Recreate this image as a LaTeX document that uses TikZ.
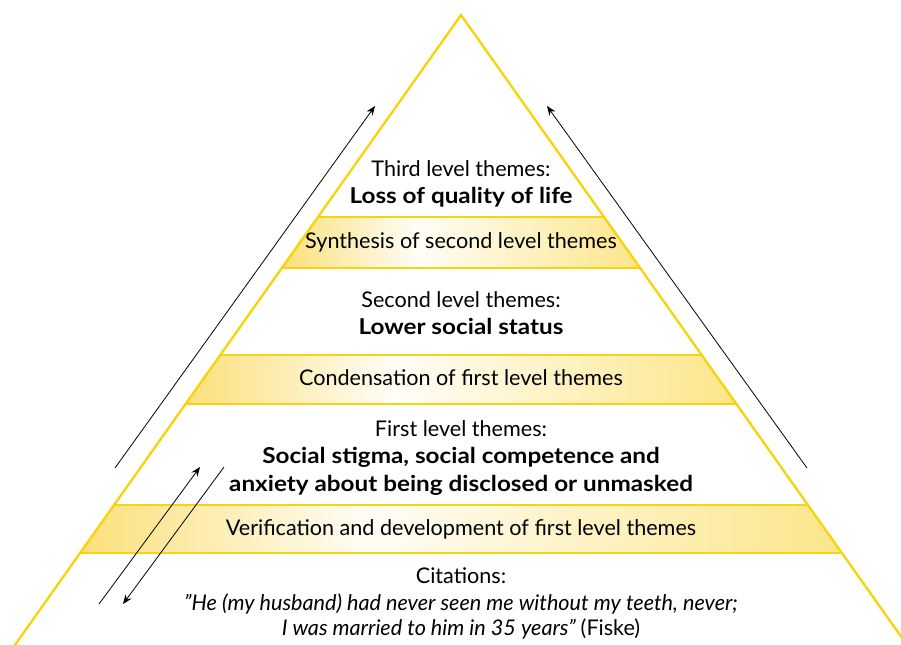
\documentclass[tikz,border=0pt]{standalone}
\usepackage{fontspec}
\setmainfont{Lato}
\usetikzlibrary{arrows.meta}
\definecolor{gold}{HTML}{F8D410}
\definecolor{bandL}{HTML}{FBE07A}
\definecolor{bandR}{HTML}{FCE68A}
\pgfdeclarehorizontalshading{bandshade}{100bp}{color(0bp)=(bandL); color(25bp)=(bandL); color(44bp)=(white!94!bandL); color(75bp)=(bandR); color(100bp)=(bandR)}
\tikzset{
  lbl/.style={anchor=base, inner sep=0pt, font=\fontsize{16.2}{20}\selectfont},
  bld/.style={lbl, font=\fontsize{16.4}{20}\selectfont\bfseries\addfontfeatures{FakeStretch=1.11}},
  itl/.style={lbl, font=\fontsize{16.2}{20}\selectfont\itshape},
  edge/.style={draw=gold, line width=1.8pt},
  band/.style={shading=bandshade},
  arr/.style={draw=black, line width=0.6pt, -{Stealth[length=7pt,width=5.5pt]}},
}
\newcommand{\lx}[1]{\fpeval{461-0.708*(#1-15)}}
\newcommand{\rx}[1]{\fpeval{461+0.708*(#1-15)}}
\begin{document}
\begin{tikzpicture}[x=0.75pt,y=-0.75pt]
\useasboundingbox (0,0) rectangle (901,644);
\clip (0,0) rectangle (901,644);
% bands
\foreach \t/\b in {217/268, 355/404, 505/553}{
  \shade[band] (\lx{\t},\t) -- (\rx{\t},\t) -- (\rx{\b},\b) -- (\lx{\b},\b) -- cycle;
}
% band borders
\foreach \y in {217,268,355,404,505,553}{
  \draw[edge] (\lx{\y},\y) -- (\rx{\y},\y);
}
% triangle
\coordinate (apex) at (461,15);
\coordinate (bl) at (\lx{700},700);
\coordinate (br) at (\rx{700},700);
\draw[edge, line join=miter] (bl) -- (apex) -- (br);
% texts
\node[lbl] (t3a) at (461,176) {Third level themes:};
\node[bld] (t3b) at (461,203) {Loss of quality of life};
\node[lbl] (syn) at (461,248) {Synthesis of second level themes};
\node[lbl] (t2a) at (461,307) {Second level themes:};
\node[bld] (t2b) at (461,334) {Lower social status};
\node[lbl] (con) at (461,385) {Condensation of first level themes};
\node[lbl] (t1a) at (461,436) {First level themes:};
\node[bld] (t1b) at (461,463) {Social stigma, social competence and};
\node[bld] (t1c) at (461,491) {anxiety about being disclosed or unmasked};
\node[lbl] (ver) at (461,535) {Verification and development of first level themes};
\node[lbl] (cit) at (461,583) {Citations:};
\node[itl] (q1) at (461,610) {”He (my husband) had never seen me without my teeth, never;};
\node[lbl] (q2) at (461,635) {\itshape I was married to him in 35 years” \upshape(Fiske)};
% arrows
\coordinate (la0) at (115,468);
\coordinate (la1) at (375,106);
\coordinate (ra0) at (807,468);
\coordinate (ra1) at (547,106);
\coordinate (su0) at (99,604);
\coordinate (su1) at (200,467);
\coordinate (sd0) at (224,467);
\coordinate (sd1) at (123,604);
\draw[arr] (la0) -- (la1);
\draw[arr] (ra0) -- (ra1);
\draw[arr] (su0) -- (su1);
\draw[arr] (sd0) -- (sd1);
\end{tikzpicture}
\end{document}
